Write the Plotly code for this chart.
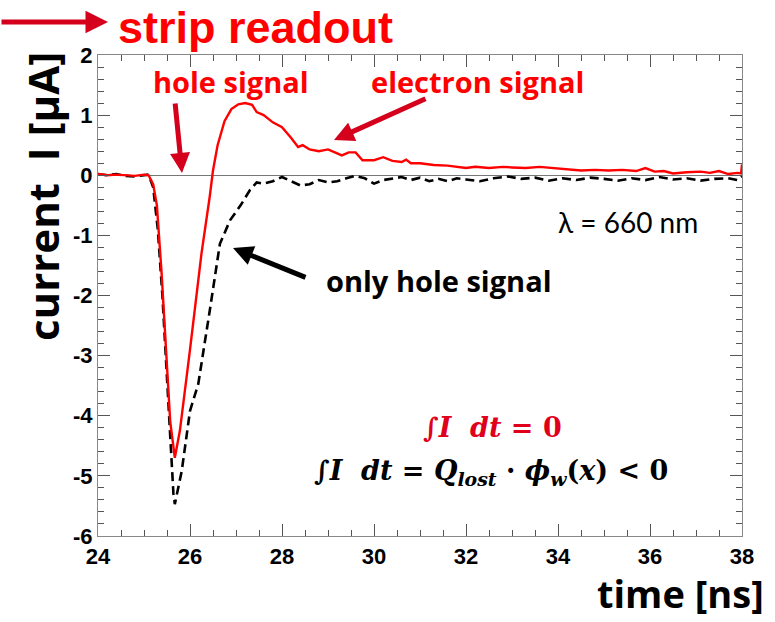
import plotly.graph_objects as go

# ---------------- data ----------------
t_red = [24.0, 24.2, 24.4, 24.6, 24.8, 25.0, 25.1, 25.2, 25.28, 25.38, 25.46, 25.57, 25.67, 25.78,
         26.0, 26.25, 26.43, 26.5, 26.6, 26.75, 26.9, 27.05, 27.2, 27.35, 27.45, 27.6, 27.8, 28.0,
         28.2, 28.35, 28.45, 28.6, 28.8, 29.0, 29.15, 29.3, 29.45, 29.6, 29.75, 30.0, 30.2, 30.4,
         30.6, 30.7, 30.8, 31.0, 31.3, 31.6, 32.0, 32.2, 32.5, 32.8, 33.0, 33.3, 33.6, 33.9, 34.2,
         34.5, 34.8, 35.1, 35.4, 35.7, 35.9, 36.1, 36.3, 36.5, 36.8, 37.1, 37.3, 37.5, 37.7, 37.9,
         37.98, 38.0]
i_red = [0.02, 0.0, 0.01, 0.0, -0.01, 0.01, 0.0, -0.15, -0.5, -1.6, -2.7, -4.1, -4.7, -4.25,
         -2.9, -1.3, -0.35, 0.08, 0.5, 0.9, 1.1, 1.18, 1.2, 1.17, 1.05, 1.0, 0.88, 0.8,
         0.62, 0.47, 0.5, 0.43, 0.4, 0.43, 0.38, 0.33, 0.38, 0.38, 0.25, 0.25, 0.3, 0.24,
         0.22, 0.26, 0.2, 0.2, 0.17, 0.16, 0.12, 0.14, 0.12, 0.14, 0.13, 0.12, 0.14, 0.12, 0.09,
         0.08, 0.09, 0.08, 0.09, 0.07, 0.12, 0.06, 0.07, 0.03, 0.05, 0.06, 0.04, 0.07, 0.02, 0.04,
         0.03, 0.18]

t_blk = [24.0, 24.2, 24.4, 24.6, 24.8, 25.0, 25.1, 25.2, 25.3, 25.4, 25.49, 25.57, 25.64, 25.67,
         25.82, 26.0, 26.18, 26.43, 26.65, 26.87, 27.1, 27.3, 27.45, 27.6, 27.8, 28.0, 28.2, 28.4,
         28.6, 28.8, 29.0, 29.2, 29.4, 29.6, 29.8, 30.0, 30.2, 30.4, 30.6, 30.8, 31.0, 31.2, 31.4,
         31.6, 31.8, 32.0, 32.3, 32.6, 32.9, 33.2, 33.5, 33.8, 34.1, 34.4, 34.7, 35.0, 35.3, 35.6,
         35.9, 36.2, 36.5, 36.8, 37.1, 37.4, 37.7, 37.9, 38.0]
i_blk = [0.02, 0.0, 0.02, -0.01, -0.02, 0.0, 0.01, -0.2, -0.9, -2.0, -3.25, -4.36, -5.3, -5.47,
         -4.92, -3.92, -3.47, -2.25, -1.14, -0.75, -0.5, -0.25, -0.12, -0.14, -0.1, -0.03, -0.1, -0.17,
         -0.15, -0.08, -0.12, -0.1, -0.05, -0.01, -0.05, -0.14, -0.08, -0.06, -0.03, -0.08, -0.04, -0.1, -0.06,
         -0.1, -0.05, -0.07, -0.1, -0.05, -0.02, -0.06, -0.04, -0.09, -0.05, -0.08, -0.04, -0.06, -0.09, -0.05,
         -0.08, -0.03, -0.07, -0.05, -0.09, -0.06, -0.05, -0.08, -0.02]

x_ticks = [24, 26, 28, 30, 32, 34, 36, 38]
y_ticks = [-6, -5, -4, -3, -2, -1, 0, 1, 2]

# ---------------- geometry helpers ----------------
W, H = 775, 622
L, R, T, B = 98, 33, 55, 86
PW, PH = W - L - R, H - T - B


def px(x):
    return (x - L) / PW


def py(y):
    return (H - B - y) / PH


fig = go.Figure()
fig.add_trace(go.Scatter(x=t_blk, y=i_blk, mode="lines",
                         line=dict(color="black", width=2.6, dash="9px,5px"), showlegend=False))
fig.add_trace(go.Scatter(x=t_red, y=i_red, mode="lines",
                         line=dict(color="#ff0000", width=2.4), showlegend=False))

fig.update_layout(
    width=W, height=H,
    margin=dict(l=L, r=R, t=T, b=B),
    paper_bgcolor="white", plot_bgcolor="white",
)

tick_font = dict(family="Liberation Sans", size=22, color="black", weight="bold")

fig.update_xaxes(range=[24, 38], tickmode="array", tickvals=x_ticks,
                 ticktext=[str(v) for v in x_ticks], zeroline=False,
                 showgrid=False, showline=True, linecolor="#888888", linewidth=1.2,
                 mirror="ticks", ticks="inside", tickcolor="#555555", ticklen=12, tickwidth=1,
                 minor=dict(dtick=0.5, ticks="inside", ticklen=6, tickcolor="#555555", showgrid=False))
fig.update_yaxes(range=[-6, 2], tickmode="array", tickvals=y_ticks,
                 ticktext=[str(v) for v in y_ticks],
                 zeroline=True, zerolinecolor="#777777", zerolinewidth=1,
                 showgrid=False, showline=True, linecolor="#888888", linewidth=1.2,
                 mirror="ticks", ticks="inside", tickcolor="#555555", ticklen=12, tickwidth=1,
                 minor=dict(dtick=0.2, ticks="inside", ticklen=6, tickcolor="#555555", showgrid=False))
fig.update_xaxes(tickfont=tick_font)
fig.update_yaxes(tickfont=tick_font)

SANS = "Open Sans"
ann = []
# axis titles
ann.append(dict(x=px(766), y=py(593), xref="paper", yref="paper", xanchor="right", yanchor="middle",
                text="<b>time [ns]</b>", showarrow=False,
                font=dict(family=SANS, size=38, color="black")))
ann.append(dict(x=px(42), y=py(197), xref="paper", yref="paper", xanchor="center", yanchor="middle",
                text="<b>current  I [μA]</b>", textangle=-90, showarrow=False,
                font=dict(family=SANS, size=42, color="black")))
# strip readout
ann.append(dict(x=px(116), y=py(27), xref="paper", yref="paper", xanchor="left", yanchor="middle",
                text="<b>strip readout</b>", showarrow=False,
                font=dict(family="Liberation Sans", size=45, color="#ff0000")))
ann.append(dict(x=px(108), y=py(22), xref="paper", yref="paper", text="", showarrow=True,
                ax=-112, ay=0, arrowhead=2, arrowsize=0.9, arrowwidth=5, arrowcolor="#d4001c"))
# labels
ann.append(dict(x=px(231), y=py(82), xref="paper", yref="paper", xanchor="center", yanchor="middle",
                text="<b>hole signal</b>", showarrow=False,
                font=dict(family=SANS, size=29, color="#ff0000")))
ann.append(dict(x=px(477), y=py(82), xref="paper", yref="paper", xanchor="center", yanchor="middle",
                text="<b>electron signal</b>", showarrow=False,
                font=dict(family=SANS, size=29, color="#ff0000")))
ann.append(dict(x=px(439), y=py(280), xref="paper", yref="paper", xanchor="center", yanchor="middle",
                text="<b>only hole signal</b>", showarrow=False,
                font=dict(family=SANS, size=29, color="black")))
ann.append(dict(x=px(628), y=py(222), xref="paper", yref="paper", xanchor="center", yanchor="middle",
                text="λ = 660 nm", showarrow=False,
                font=dict(family="Lato", size=28, color="black")))
# arrows
ann.append(dict(x=px(182), y=py(173), xref="paper", yref="paper", text="", showarrow=True,
                ax=-7, ay=-71, arrowhead=2, arrowsize=0.8, arrowwidth=5, arrowcolor="#d4001c"))
ann.append(dict(x=px(334), y=py(140), xref="paper", yref="paper", text="", showarrow=True,
                ax=93, ay=-42, arrowhead=2, arrowsize=0.8, arrowwidth=5, arrowcolor="#d4001c"))
ann.append(dict(x=px(233), y=py(248), xref="paper", yref="paper", text="", showarrow=True,
                ax=74, ay=30, arrowhead=2, arrowsize=0.8, arrowwidth=5, arrowcolor="black"))
# formulas
ann.append(dict(x=px(492), y=py(427), xref="paper", yref="paper", xanchor="center", yanchor="middle",
                text="<b>∫<i>I</i>  <i>dt</i> = 0</b>", showarrow=False,
                font=dict(family="DejaVu Serif", size=27, color="#e0001b")))
ann.append(dict(x=px(491), y=py(473), xref="paper", yref="paper", xanchor="center", yanchor="middle",
                text="<b>∫<i>I</i>  <i>dt</i> = <i>Q</i><sub><i>lost</i></sub> · <i>ϕ</i><sub><i>w</i></sub>(<i>x</i>) &lt; 0</b>",
                showarrow=False,
                font=dict(family="DejaVu Serif", size=27, color="black")))

fig.update_layout(annotations=ann)
fig.write_html("out.html")
